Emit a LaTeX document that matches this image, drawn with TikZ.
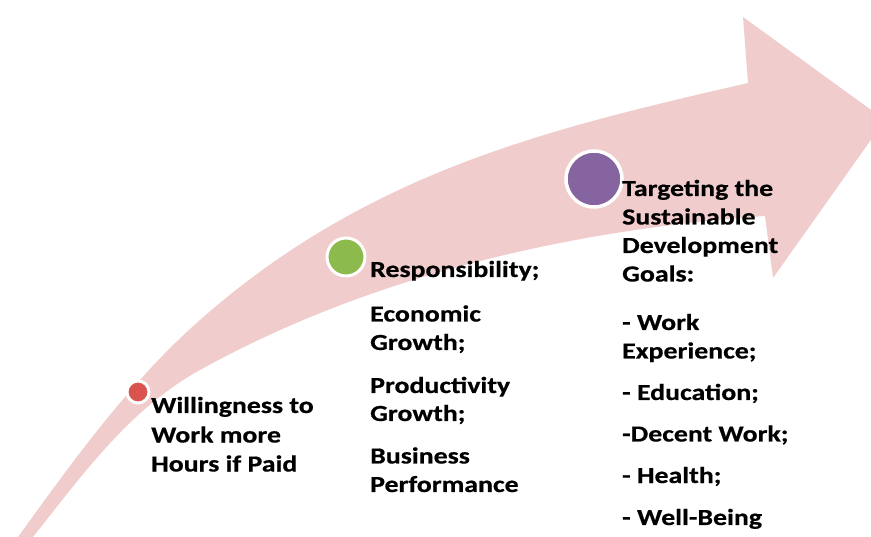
\documentclass[tikz,border=0pt]{standalone}
\usepackage{fontspec}
\setmainfont{Carlito}[FakeStretch=1.21,BoldFeatures={FakeBold=0.6}]
\definecolor{bandpink}{HTML}{F0CCCC}
\definecolor{cred}{HTML}{D9534F}
\definecolor{cgreen}{HTML}{8DBA4C}
\definecolor{cpurple}{HTML}{8564A0}
\begin{document}
\begin{tikzpicture}[x=1pt,y=-1pt,
  lbl/.style={anchor=base west, inner sep=0pt, font=\fontsize{23}{28}\selectfont\bfseries, text=black},
  dot/.style={circle, draw=white, line width=3pt, inner sep=0pt}]
\useasboundingbox (0,0) rectangle (871,537);
\begin{scope}
\clip (0,0) rectangle (871,537);
\fill[bandpink] (18,537) .. controls (73,461) and (129.5,382) .. (200,320)
  .. controls (370,170) and (553,128) .. (748,83)
  -- (743,17) -- (885,120) -- (773,278) -- (765,216)
  .. controls (565,230) and (366,278) .. (200,370)
  .. controls (130,408.6) and (83,474) .. (33,537) -- cycle;
\end{scope}
\node[dot, fill=cred, minimum size=22pt] (c1) at (138,392) {};
\node[dot, fill=cgreen, minimum size=38pt] (c2) at (346,257) {};
\node[dot, fill=cpurple, minimum size=56pt, line width=3.5pt] (c3) at (594,179) {};
% block 1
\node[lbl] (a1) at (151,413) {Willingness to};
\node[lbl] (a2) at (151,442.5) {Work more};
\node[lbl] (a3) at (151,471.5) {Hours if Paid};
% block 2
\node[lbl] (b1) at (370,277) {Responsibility;};
\node[lbl] (b2) at (370,321.5) {Economic};
\node[lbl] (b3) at (370,350) {Growth;};
\node[lbl] (b4) at (370,393) {Productivity};
\node[lbl] (b5) at (370,421) {Growth;};
\node[lbl] (b6) at (370,463.5) {Business};
\node[lbl] (b7) at (370,492) {Performance};
% block 3
\node[lbl] (d1) at (622,196) {Targeting the};
\node[lbl] (d2) at (622,224.5) {Sustainable};
\node[lbl] (d3) at (622,253) {Development};
\node[lbl] (d4) at (622,281.5) {Goals:};
\node[lbl] (d5) at (622,330) {- Work};
\node[lbl] (d6) at (622,358.5) {Experience;};
\node[lbl] (d7) at (622,400) {- Education;};
\node[lbl] (d8) at (622,441.5) {-Decent Work;};
\node[lbl] (d9) at (622,483) {- Health;};
\node[lbl] (d10) at (622,525) {- Well-Being};
\end{tikzpicture}
\end{document}
